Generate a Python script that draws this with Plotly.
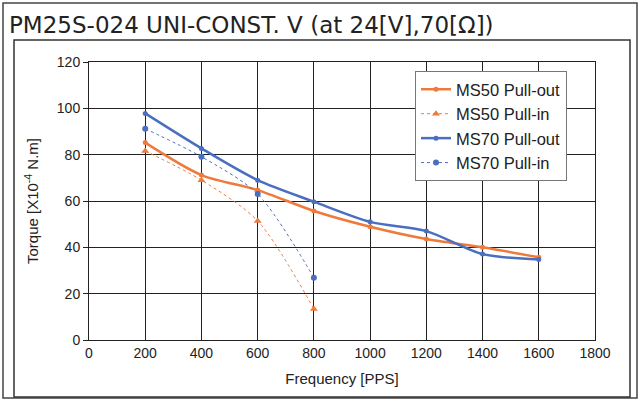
import plotly.graph_objects as go

freq = [200, 400, 600, 800, 1000, 1200, 1400, 1600]
freq_in = [200, 400, 600, 800]
ms50_pullout = [85.2, 71.2, 64.7, 55.7, 48.9, 43.6, 40.0, 35.7]
ms50_pullin = [81.6, 69.0, 51.4, 13.4]
ms70_pullout = [97.8, 82.7, 69.0, 59.7, 51.0, 47.0, 37.1, 34.8]
ms70_pullin = [91.2, 79.1, 63.0, 26.9]

x_ticks = [0, 200, 400, 600, 800, 1000, 1200, 1400, 1600, 1800]
y_ticks = [0, 20, 40, 60, 80, 100, 120]

ORANGE = "#EE7A3C"
BLUE = "#4A6FC0"

fig = go.Figure()
fig.add_trace(go.Scatter(x=freq, y=ms50_pullout, name="MS50 Pull-out", mode="lines+markers",
                         line=dict(color=ORANGE, width=2.5, shape="spline", smoothing=0.8),
                         marker=dict(symbol="circle", size=5, color=ORANGE)))
fig.add_trace(go.Scatter(x=freq_in, y=ms50_pullin, name="MS50 Pull-in", mode="lines+markers",
                         line=dict(color=ORANGE, width=1, dash="dot", shape="spline", smoothing=0.8),
                         marker=dict(symbol="triangle-up", size=7, color=ORANGE)))
fig.add_trace(go.Scatter(x=freq, y=ms70_pullout, name="MS70 Pull-out", mode="lines+markers",
                         line=dict(color=BLUE, width=2.5, shape="spline", smoothing=0.8),
                         marker=dict(symbol="circle", size=5, color=BLUE)))
fig.add_trace(go.Scatter(x=freq_in, y=ms70_pullin, name="MS70 Pull-in", mode="lines+markers",
                         line=dict(color=BLUE, width=1, dash="dot", shape="spline", smoothing=0.8),
                         marker=dict(symbol="circle", size=6, color=BLUE)))

L, R, T, B = 89, 595, 62, 340
W, H = 640, 401
pw, ph = R - L, B - T

def px(x):
    return (x - L) / pw

def py(y):
    return (B - y) / ph

fig.update_layout(
    width=W, height=H,
    margin=dict(l=L, r=W - R, t=T, b=H - B),
    paper_bgcolor="white", plot_bgcolor="white",
    font=dict(family="Liberation Sans, Arial", size=14, color="#222"),
    showlegend=True,
    legend=dict(x=px(415), y=py(71), xanchor="left", yanchor="top",
                bgcolor="white", bordercolor="#777", borderwidth=1,
                font=dict(size=16.5, color="#222"), tracegroupgap=0,
                itemwidth=30),
    xaxis=dict(range=[0, 1800], tickvals=x_ticks, ticktext=[str(v) for v in x_ticks],
               showgrid=True, gridcolor="#222", gridwidth=1,
               showline=True, linecolor="#222", linewidth=1, mirror=True,
               ticks="", zeroline=False,
               title=dict(text="Frequency [PPS]", font=dict(size=15), standoff=13)),
    yaxis=dict(range=[0, 120], tickvals=y_ticks,
               showgrid=True, gridcolor="#222", gridwidth=1,
               showline=True, linecolor="#222", linewidth=1, mirror=True,
               ticks="outside", ticklen=5, tickcolor="#222", zeroline=False,
               title=dict(text="Torque [X10<sup>-4</sup> N.m]", font=dict(size=15), standoff=14)),
    shapes=[
        dict(type="rect", xref="paper", yref="paper",
             x0=px(3), x1=px(637), y0=py(398), y1=py(3),
             line=dict(color="#444", width=1.5), layer="below"),
        dict(type="rect", xref="paper", yref="paper",
             x0=px(14), x1=px(630), y0=py(397), y1=py(40),
             line=dict(color="#333", width=1.5), layer="below"),
    ],
    annotations=[
        dict(text="PM25S-024 UNI-CONST. V (at 24[V],70[Ω])", xref="paper", yref="paper",
             x=px(7), y=py(25), xanchor="left", yanchor="middle", showarrow=False,
             font=dict(family="DejaVu Sans", size=23, color="#222")),
    ],
)

fig.write_html("out.html", config={"displayModeBar": False},
               post_script="document.body.style.margin='0';document.body.style.overflow='hidden';")
